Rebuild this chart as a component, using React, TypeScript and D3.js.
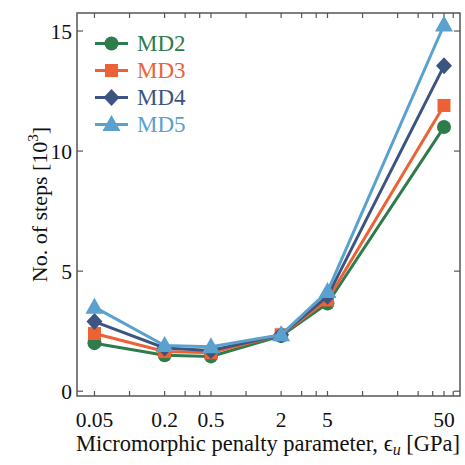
import React from "react";
import * as d3 from "d3";

const penalties = [0.05, 0.2, 0.5, 2, 5, 50];
const md2 = [2.0, 1.5, 1.45, 2.3, 3.65, 11.0];
const md3 = [2.4, 1.65, 1.6, 2.35, 3.8, 11.9];
const md4 = [2.9, 1.8, 1.7, 2.35, 3.95, 13.55];
const md5 = [3.5, 1.9, 1.85, 2.35, 4.15, 15.25];
const seriesNames = ["MD2", "MD3", "MD4", "MD5"];
const xTickLabels = [0.05, 0.2, 0.5, 2, 5, 50];
const xTicksAll = [0.05, 0.1, 0.2, 0.3, 0.4, 0.5, 1, 2, 3, 4, 5, 10, 20, 30, 40, 50, 60];
const yTicks = [0, 5, 10, 15];

const colors = ["#2e7b4b", "#ec6236", "#3c5481", "#5aa1ce"];
const markers = ["circle", "square", "diamond", "triangle"];

const W = 465, H = 465;
const L = 77, R = 460, T = 13, B = 396;
const FONT = '"Liberation Serif"';

function Marker({ type, x, y, color }: { type: string; x: number; y: number; color: string }) {
  if (type === "circle") return <circle cx={x} cy={y} r={7} fill={color} />;
  if (type === "square") return <rect x={x - 6.5} y={y - 6.5} width={13} height={13} fill={color} />;
  if (type === "diamond")
    return <path d={`M${x},${y - 8.5}L${x + 8},${y}L${x},${y + 8.5}L${x - 8},${y}Z`} fill={color} />;
  return <path d={`M${x},${y - 9.5}L${x + 9},${y + 6.5}L${x - 9},${y + 6.5}Z`} fill={color} />;
}

export default function App() {
  const x = d3.scaleLog().domain([0.0354, 68.6]).range([L, R]);
  const y = d3.scaleLinear().domain([-0.2, 15.75]).range([B, T]);
  const data = [md2, md3, md4, md5];
  const line = d3
    .line<number>()
    .x((_, i) => x(penalties[i]))
    .y((d) => y(d));
  const frame = "#555";
  return (
    <svg width={W} height={H} style={{ position: "absolute", left: 0, top: 0, background: "#fff" }}>
      {xTicksAll.map((t) => (
        <g key={"xt" + t}>
          <line x1={x(t)} x2={x(t)} y1={B} y2={B - 5} stroke={frame} strokeWidth={1.2} />
          <line x1={x(t)} x2={x(t)} y1={T} y2={T + 5} stroke={frame} strokeWidth={1.2} />
        </g>
      ))}
      {yTicks.map((t) => (
        <g key={"yt" + t}>
          <line x1={L} x2={L + 6} y1={y(t)} y2={y(t)} stroke={frame} strokeWidth={1.2} />
          <line x1={R} x2={R - 6} y1={y(t)} y2={y(t)} stroke={frame} strokeWidth={1.2} />
          <text x={L - 5} y={y(t) + 8} textAnchor="end" fill="#111" fontSize={21.5} style={{ fontFamily: FONT }}>
            {t}
          </text>
        </g>
      ))}
      {xTickLabels.map((t) => (
        <text key={"xl" + t} x={x(t)} y={427} textAnchor="middle" fill="#111" fontSize={21.5} style={{ fontFamily: FONT }}>
          {t}
        </text>
      ))}
      {data.map((vals, si) => (
        <g key={"s" + si}>
          <path d={line(vals) || ""} fill="none" stroke={colors[si]} strokeWidth={3} />
          {vals.map((v, i) => (
            <Marker key={i} type={markers[si]} x={x(penalties[i])} y={y(v)} color={colors[si]} />
          ))}
        </g>
      ))}
      <rect x={L} y={T} width={R - L} height={B - T} fill="none" stroke={frame} strokeWidth={1.5} />
      {seriesNames.map((n, i) => {
        const ly = 43.5 + i * 27;
        return (
          <g key={"lg" + n}>
            <line x1={95} x2={128} y1={ly} y2={ly} stroke={colors[i]} strokeWidth={3} />
            <Marker type={markers[i]} x={111.5} y={ly} color={colors[i]} />
            <text x={137} y={ly + 7.5} fill={colors[i]} fontSize={23} style={{ fontFamily: FONT }}>
              {n}
            </text>
          </g>
        );
      })}
      <text x={268} y={451} textAnchor="middle" fill="#111" fontSize={22.5} style={{ fontFamily: FONT }}>
        Micromorphic penalty parameter, {"\u03F5"}
        <tspan fontStyle="italic" fontSize={16} dy={4}>u</tspan>
        <tspan dy={-4}> [GPa]</tspan>
      </text>
      <text
        transform={`translate(47,${(T + B) / 2}) rotate(-90)`}
        textAnchor="middle"
        fill="#111"
        fontSize={22}
        style={{ fontFamily: FONT }}
      >
        No. of steps [10<tspan fontSize={15} dy={-9}>3</tspan>
        <tspan dy={9}>]</tspan>
      </text>
    </svg>
  );
}
